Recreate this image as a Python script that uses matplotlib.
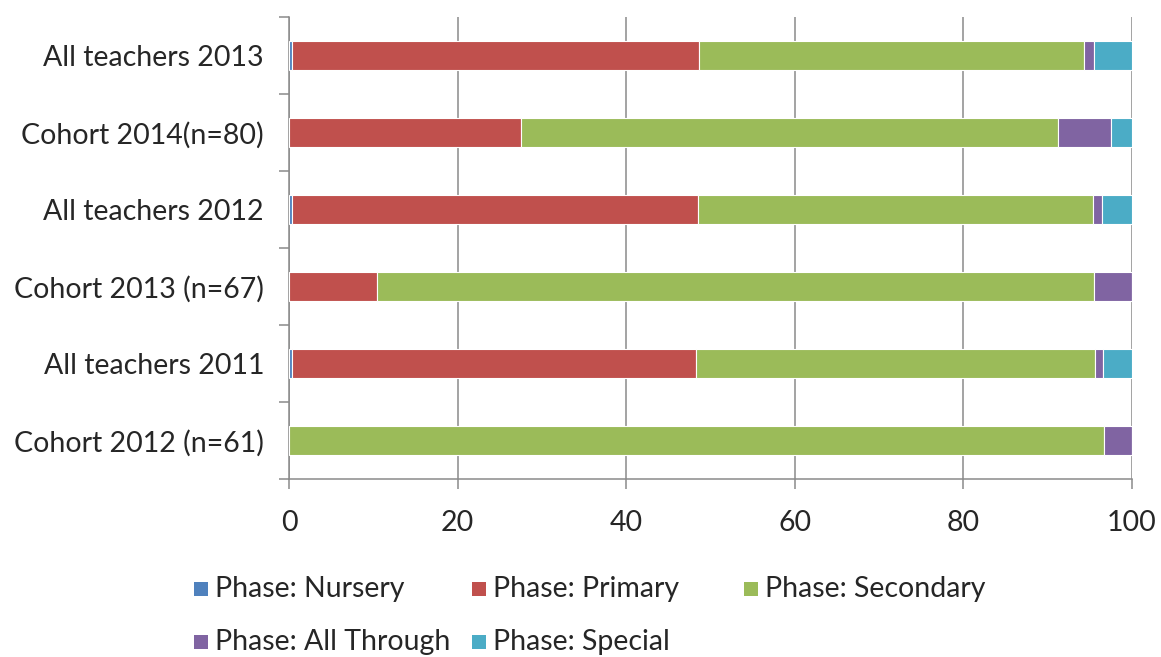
import matplotlib
matplotlib.use("Agg")
import matplotlib.pyplot as plt
from matplotlib.patches import Rectangle
import numpy as np

# Survey groups, top to bottom
groups = [
    "All teachers 2013",
    "Cohort 2014(n=80)",
    "All teachers 2012",
    "Cohort 2013 (n=67)",
    "All teachers 2011",
    "Cohort 2012 (n=61)",
]

# Percentage of each group by school phase
nursery = [0.4, 0.0, 0.4, 0.0, 0.4, 0.0]
primary = [48.2, 27.5, 48.1, 10.4, 47.9, 0.0]
secondary = [45.7, 63.75, 46.9, 85.1, 47.3, 96.7]
all_through = [1.2, 6.25, 1.1, 4.5, 1.0, 3.3]
special = [4.5, 2.5, 3.5, 0.0, 3.4, 0.0]

series_names = ["Phase: Nursery", "Phase: Primary", "Phase: Secondary",
                "Phase: All Through", "Phase: Special"]
series_colors = ["#4F81BD", "#C0504D", "#9BBB59", "#8064A2", "#4BACC6"]
series_values = [nursery, primary, secondary, all_through, special]

x_ticks = [0, 20, 40, 60, 80, 100]

plt.rcParams["font.family"] = ["Lato", "DejaVu Sans"]
text_color = "#262626"
axis_gray = "#8A8A8A"
FS = 20.5

W, H = 1161, 657
fig = plt.figure(figsize=(W / 100, H / 100), dpi=100)
ax = fig.add_axes([289 / W, 1 - 479 / H, (1132 - 289) / W, (479 - 17) / H])

y = np.arange(len(groups))
left = np.zeros(len(groups))
for name, color, vals in zip(series_names, series_colors, series_values):
    vals = np.asarray(vals, dtype=float)
    ax.barh(y, vals, left=left, height=0.37, color=color,
            edgecolor="white", linewidth=0.8, label=name, zorder=3)
    left += vals

ax.set_xlim(0, 100)
ax.set_ylim(len(groups) - 0.5, -0.5)

ax.set_xticks(x_ticks)
ax.set_xticklabels([str(t) for t in x_ticks])
ax.set_yticks(y)
ax.set_yticklabels(groups)
ax.set_yticks(np.arange(-0.5, len(groups)), minor=True)

ax.tick_params(axis="y", which="major", length=0, pad=18,
               labelsize=FS, labelcolor=text_color)
ax.tick_params(axis="y", which="minor", length=7.2, width=1.1,
               color=axis_gray, direction="out")
ax.tick_params(axis="x", which="major", length=7.2, width=1.1,
               color=axis_gray, direction="out", pad=15,
               labelsize=FS, labelcolor=text_color)

ax.xaxis.grid(True, color=axis_gray, linewidth=1.1, zorder=0)
ax.set_axisbelow(True)
for side in ("top", "right"):
    ax.spines[side].set_visible(False)
for side in ("left", "bottom"):
    ax.spines[side].set_color(axis_gray)
    ax.spines[side].set_linewidth(1.1)

# Legend laid out in two rows below the plot
legend_slots = [(194, 589), (472, 589), (744, 589), (194, 642), (472, 642)]
box = 14
for (px, py), name, color in zip(legend_slots, series_names, series_colors):
    fig.patches.append(Rectangle((px / W, 1 - (py + box / 2) / H), box / W, box / H,
                                 transform=fig.transFigure, facecolor=color,
                                 edgecolor="none"))
    fig.text((px + box + 7) / W, 1 - py / H, name, fontsize=FS,
             color=text_color, va="center", ha="left")

fig.savefig("out.png", dpi=100)
